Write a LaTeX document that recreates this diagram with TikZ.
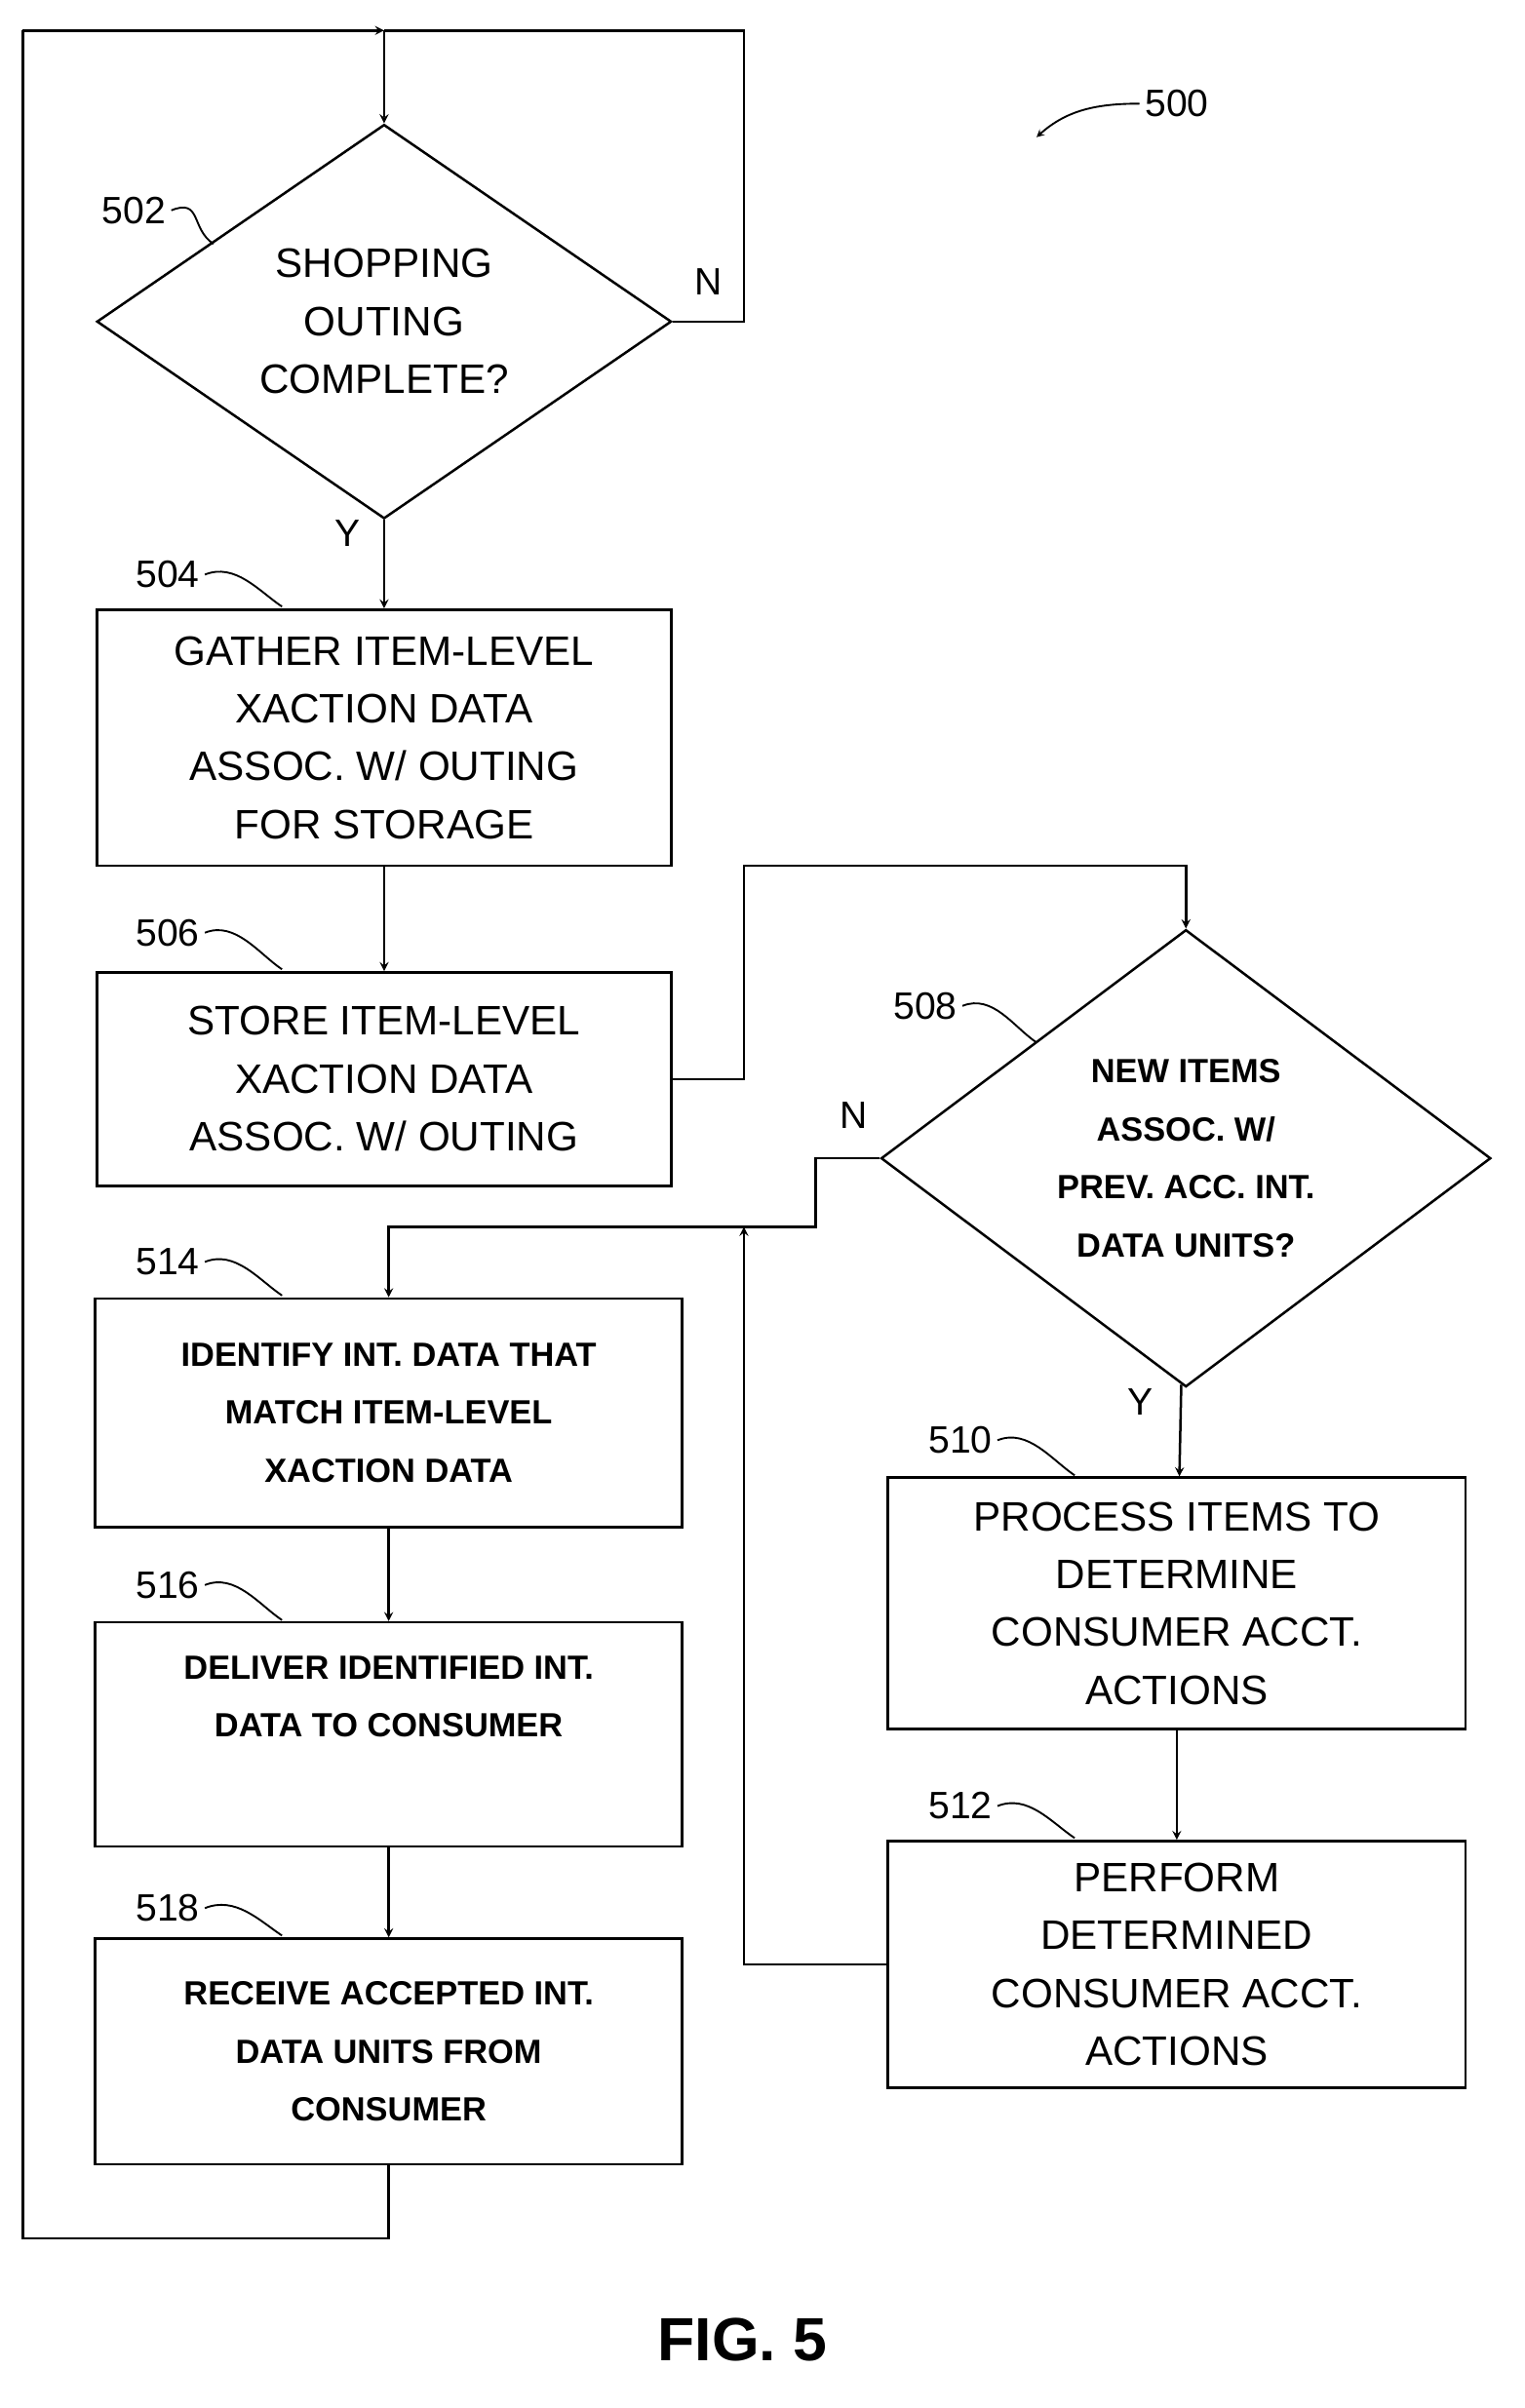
\documentclass[tikz,border=0pt]{standalone}
\usepackage{fontspec}
\setmainfont{Liberation Sans}
\usetikzlibrary{positioning,arrows,shapes.geometric}
\tikzset{
  box/.style={draw,line width=1.6pt,align=center,inner sep=0pt,font=\fontsize{27}{38}\selectfont},
  bbox/.style={box,font=\fontsize{22}{38}\selectfont\bfseries},
  dia/.style={draw,diamond,line width=1.6pt,align=center,inner sep=0pt},
  lab/.style={font=\fontsize{25}{30}\selectfont},
  flow/.style={line width=1.6pt,-stealth},
  line/.style={line width=1.6pt},
  squig/.style={line width=1.2pt}
}
\begin{document}
\begin{tikzpicture}[x=1pt,y=-1pt]
	\useasboundingbox (0,0) rectangle (1000,1580);
	\node (d502) at (252,211) [dia,minimum width=377pt,minimum height=236pt,font=\fontsize{27}{38}\selectfont] {SHOPPING\\OUTING\\COMPLETE?};
	\node (b504) at (252,484) [box,minimum width=377pt,minimum height=168pt] {GATHER ITEM-LEVEL\\XACTION DATA\\ASSOC. W/ OUTING\\FOR STORAGE};
	\node (b506) at (252,708) [box,minimum width=377pt,minimum height=140pt] {STORE ITEM-LEVEL\\XACTION DATA\\ASSOC. W/ OUTING};
	\node (d508) at (778,760) [dia,minimum width=400pt,minimum height=300pt,font=\fontsize{22}{38}\selectfont\bfseries] {NEW ITEMS\\ASSOC. W/\\PREV. ACC. INT.\\DATA UNITS?};
	\node (b514) at (255,927) [bbox,minimum width=385pt,minimum height=150pt] {IDENTIFY INT. DATA THAT\\MATCH ITEM-LEVEL\\XACTION DATA};
	\node (b516) at (255,1138) [bbox,minimum width=385pt,minimum height=147pt] {DELIVER IDENTIFIED INT.\\DATA TO CONSUMER\\\strut};
	\node (b518) at (255,1346) [bbox,minimum width=385pt,minimum height=148pt] {RECEIVE ACCEPTED INT.\\DATA UNITS FROM\\CONSUMER};
	\node (b510) at (772,1052) [box,minimum width=379pt,minimum height=165pt] {PROCESS ITEMS TO\\DETERMINE\\CONSUMER ACCT.\\ACTIONS};
	\node (b512) at (772,1289) [box,minimum width=379pt,minimum height=162pt] {PERFORM\\DETERMINED\\CONSUMER ACCT.\\ACTIONS};

	%loop points
	\coordinate (top) at (252,20);
	\coordinate (join) at (488,805);

	\draw[line] (b518.south) -- ++(0,48) -| (15,20);
	\draw[flow] (15,20) -- (top);
	\draw[flow] (top) -- (d502.north);
	\draw[line] (d502.east) -- (488,211) -- (488,20) -- (top);
	\draw[flow] (d502) -- (b504);
	\draw[flow] (b504) -- (b506);
	\draw[flow] (b506.east) -- (488,708) -- (488,568) -| (d508.north);
	\draw[flow] (d508.west) -- (535,760) -- (535,805) -| (b514.north);
	\draw[flow] (d508) -- (b510);
	\draw[flow] (b510) -- (b512);
	\draw[flow] (b512.west) -| (join);
	\draw[flow] (b514) -- (b516);
	\draw[flow] (b516) -- (b518);

	%branch letters
	\node[lab] (n502) at (465,185) {N};
	\node[lab] (y502) at (228,350) {Y};
	\node[lab] (n508) at (560,732) {N};
	\node[lab] (y508) at (748,920) {Y};

	%reference numerals
	\node[lab] (l500) at (772,68) {500};
	\draw[squig,-stealth] (l500.west) .. controls (720,68) and (700,72) .. (680,90);
	\foreach \n/\x/\y/\tx/\ty in {502/88/138/140/160, 504/110/377/185/398, 506/110/612/185/636, 508/607/660/680/684, 514/110/828/185/850, 516/110/1040/185/1063, 518/110/1252/185/1270, 510/630/945/705/968, 512/630/1185/705/1206}{
		\node[lab] (l\n) at (\x,\y) {\n};
		\draw[squig] (l\n.east) .. controls ++(20,-8) and ++(-15,-10) .. (\tx,\ty);
	}

	\node[font=\fontsize{40}{48}\selectfont\bfseries] (fig) at (487,1535) {FIG. 5};
\end{tikzpicture}
\end{document}
